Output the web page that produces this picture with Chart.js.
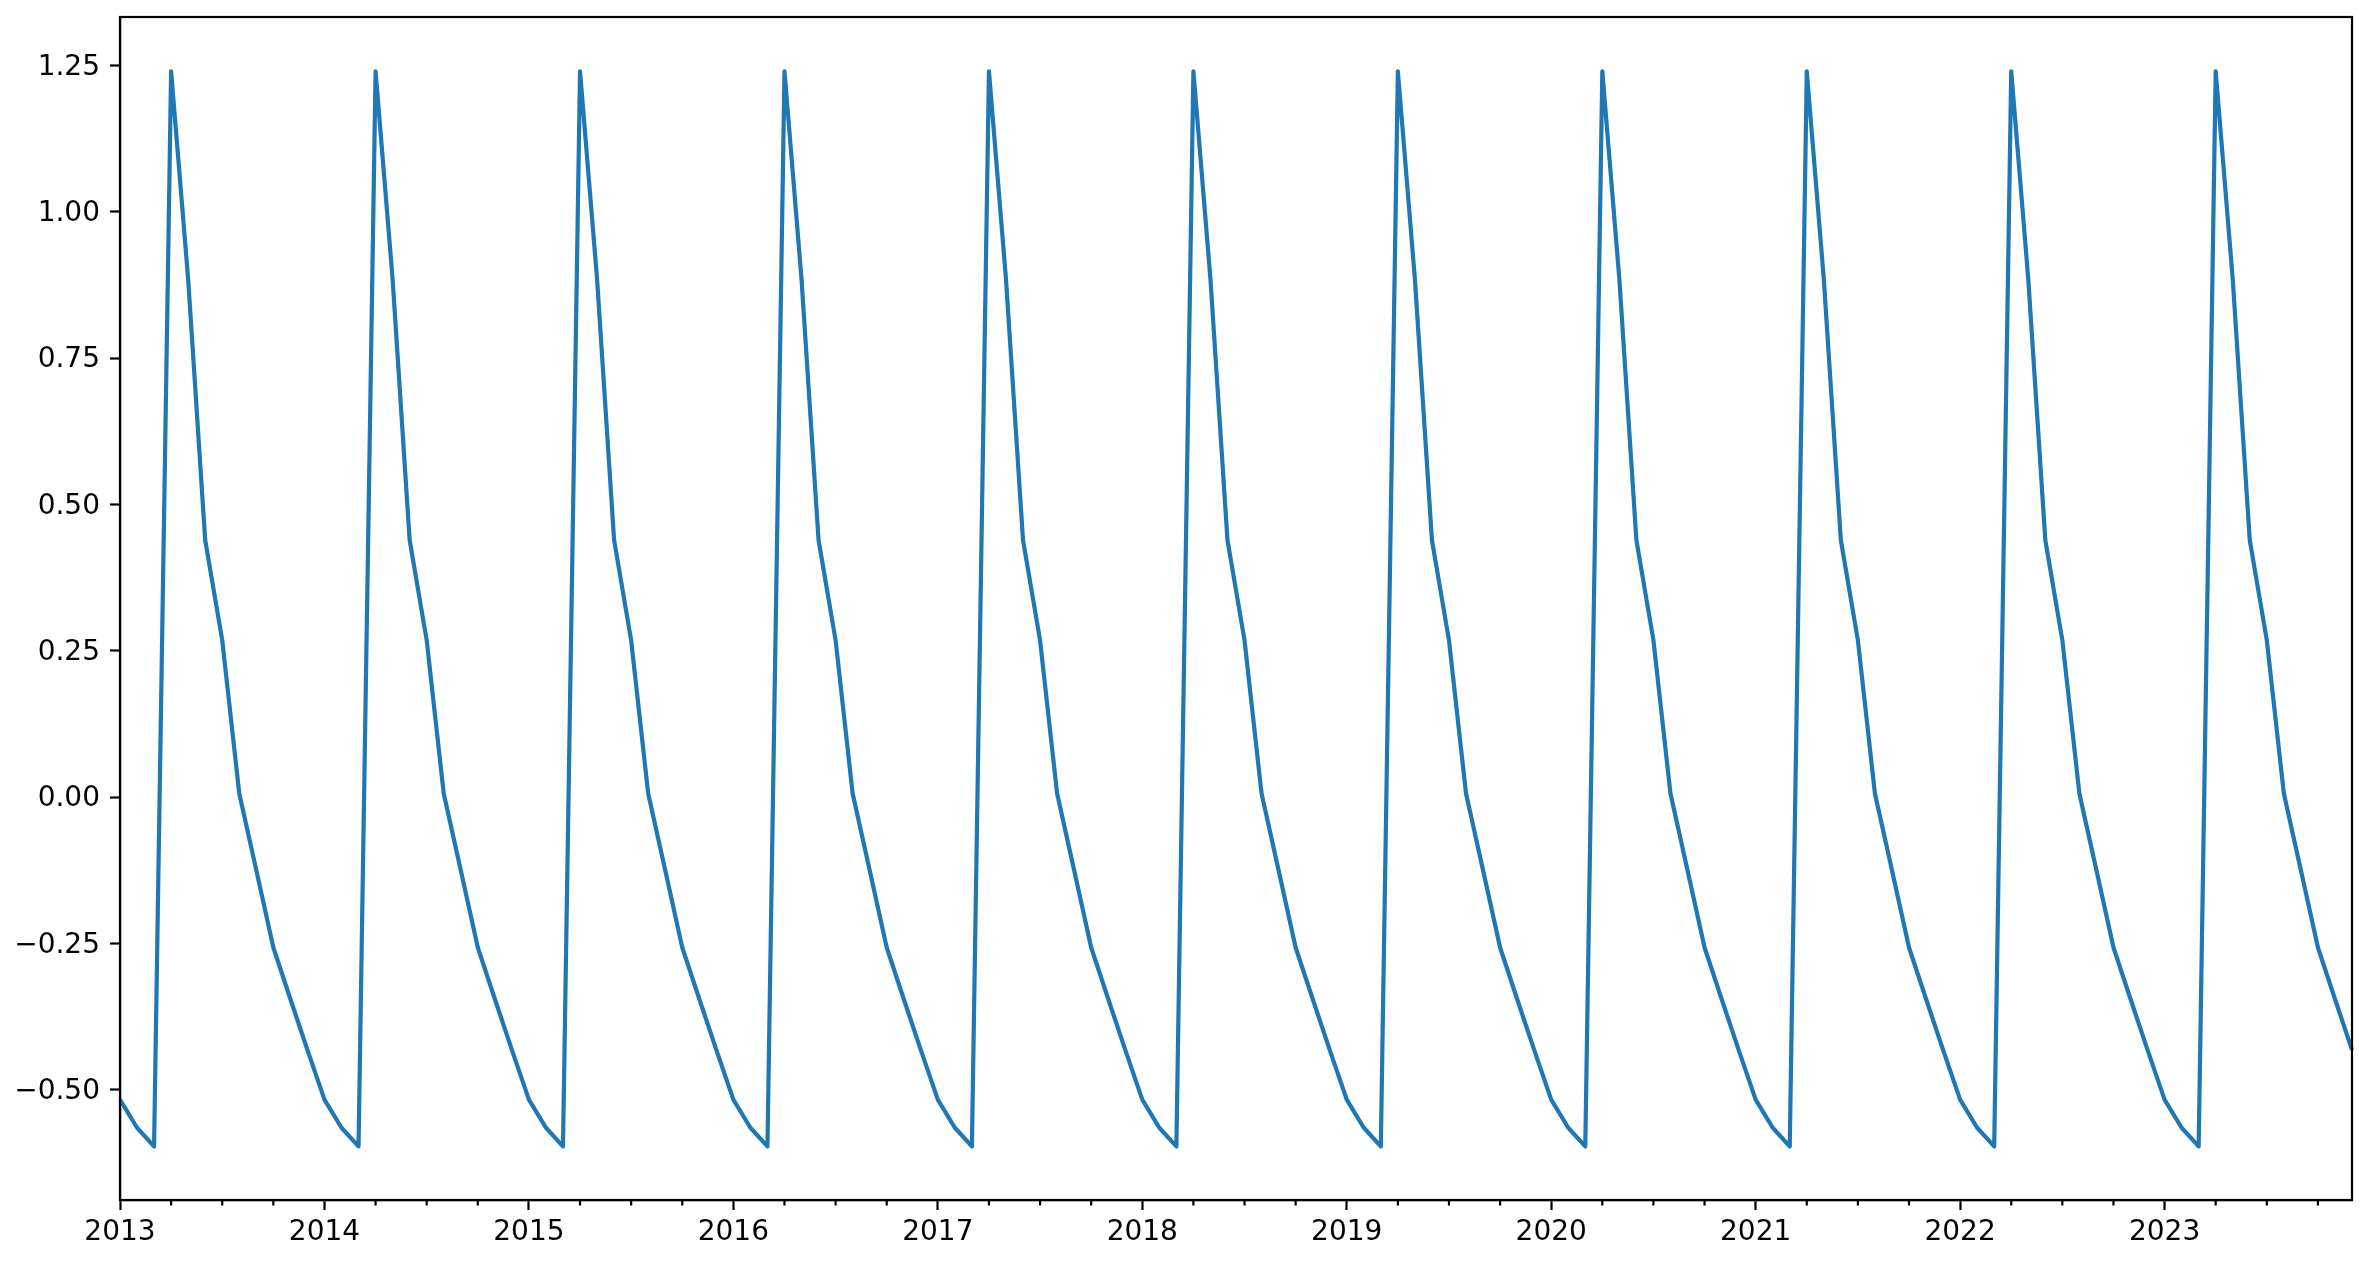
<!DOCTYPE html>
<html>
<head>
<meta charset="utf-8">
<script src="https://cdn.jsdelivr.net/npm/chart.js@4/dist/chart.umd.min.js"></script>
<style>
  html, body { margin: 0; padding: 0; background: #fff; }
  #wrap { width: 2370px; height: 1265px; position: relative; }
</style>
</head>
<body>
<div id="wrap"><canvas id="chart"></canvas></div>
<script>
// Monthly series, Jan 2013 .. Dec 2023. Same seasonal shape every year.
const years = [2013, 2014, 2015, 2016, 2017, 2018, 2019, 2020, 2021, 2022, 2023];
const months = ['01', '02', '03', '04', '05', '06', '07', '08', '09', '10', '11', '12'];

const v2013 = [-0.517, -0.565, -0.597, 1.24, 0.885, 0.439, 0.268, 0.006, -0.125, -0.257, -0.345, -0.432];
const v2014 = [-0.517, -0.565, -0.597, 1.24, 0.885, 0.439, 0.268, 0.006, -0.125, -0.257, -0.345, -0.432];
const v2015 = [-0.517, -0.565, -0.597, 1.24, 0.885, 0.439, 0.268, 0.006, -0.125, -0.257, -0.345, -0.432];
const v2016 = [-0.517, -0.565, -0.597, 1.24, 0.885, 0.439, 0.268, 0.006, -0.125, -0.257, -0.345, -0.432];
const v2017 = [-0.517, -0.565, -0.597, 1.24, 0.885, 0.439, 0.268, 0.006, -0.125, -0.257, -0.345, -0.432];
const v2018 = [-0.517, -0.565, -0.597, 1.24, 0.885, 0.439, 0.268, 0.006, -0.125, -0.257, -0.345, -0.432];
const v2019 = [-0.517, -0.565, -0.597, 1.24, 0.885, 0.439, 0.268, 0.006, -0.125, -0.257, -0.345, -0.432];
const v2020 = [-0.517, -0.565, -0.597, 1.24, 0.885, 0.439, 0.268, 0.006, -0.125, -0.257, -0.345, -0.432];
const v2021 = [-0.517, -0.565, -0.597, 1.24, 0.885, 0.439, 0.268, 0.006, -0.125, -0.257, -0.345, -0.432];
const v2022 = [-0.517, -0.565, -0.597, 1.24, 0.885, 0.439, 0.268, 0.006, -0.125, -0.257, -0.345, -0.432];
const v2023 = [-0.517, -0.565, -0.597, 1.24, 0.885, 0.439, 0.268, 0.006, -0.125, -0.257, -0.345, -0.432];

const yTicks = [-0.5, -0.25, 0, 0.25, 0.5, 0.75, 1.0, 1.25];

const labels = years.flatMap(y => months.map(m => `${y}-${m}`));
const values = [v2013, v2014, v2015, v2016, v2017, v2018, v2019, v2020, v2021, v2022, v2023].flat();

// matplotlib-ish 5% margin around the data
const Y_MIN = -0.6885, Y_MAX = 1.333;

Chart.defaults.font.family = '"DejaVu Sans", sans-serif';
Chart.defaults.font.size = 28;
Chart.defaults.color = '#000';

// full box around the plot + short quarterly minor ticks
const frame = {
  id: 'frame',
  afterDraw(chart) {
    const { ctx, chartArea: a } = chart;
    const x = chart.scales.x;
    ctx.save();
    ctx.strokeStyle = '#000';
    ctx.lineWidth = 2.2;
    ctx.beginPath();
    for (let i = 0; i < labels.length; i++) {
      if (i % 3 !== 0 || i % 12 === 0) continue;
      const px = x.getPixelForTick(i);
      ctx.moveTo(px, a.bottom);
      ctx.lineTo(px, a.bottom + 5.6);
    }
    ctx.stroke();
    ctx.strokeRect(a.left, a.top, a.right - a.left, a.bottom - a.top);
    ctx.restore();
  },
};

new Chart(document.getElementById('chart'), {
  type: 'line',
  data: {
    labels,
    datasets: [{
      data: values,
      borderColor: '#1f77b4',
      borderWidth: 4.2,
      borderJoinStyle: 'round',
      pointRadius: 0,
      tension: 0,
      fill: false,
    }],
  },
  options: {
    responsive: true,
    maintainAspectRatio: false,
    animation: false,
    layout: { padding: { top: 17, right: 18, left: 0, bottom: 0 } },
    plugins: { legend: { display: false }, tooltip: { enabled: false } },
    scales: {
      x: {
        type: 'category',
        offset: false,
        border: { display: true, color: '#000', width: 2.2 },
        grid: {
          drawOnChartArea: false,
          tickLength: 10,
          tickWidth: 2.2,
          tickColor: c => (c.index % 12 === 0 ? '#000' : 'rgba(0,0,0,0)'),
        },
        ticks: {
          autoSkip: false,
          maxRotation: 0,
          padding: 6,
          callback: (v, i) => (i % 12 === 0 ? labels[i].slice(0, 4) : ''),
        },
        afterFit: s => { s.height = 65; s.paddingLeft = 0; s.paddingRight = 0; },
      },
      y: {
        min: Y_MIN,
        max: Y_MAX,
        border: { display: true, color: '#000', width: 2.2 },
        grid: { drawOnChartArea: false, tickLength: 10, tickWidth: 2.2, tickColor: '#000' },
        afterBuildTicks: s => { s.ticks = yTicks.map(v => ({ value: v })); },
        ticks: {
          padding: 10,
          labelOffset: 2,
          callback: v => v.toFixed(2).replace('-', '\u2212'),
        },
        // keep the label half-heights from pushing the plot area down
        afterFit: s => { s.width = 120; s.paddingTop = 0; s.paddingBottom = 0; },
      },
    },
  },
  plugins: [frame],
});
</script>
</body>
</html>
